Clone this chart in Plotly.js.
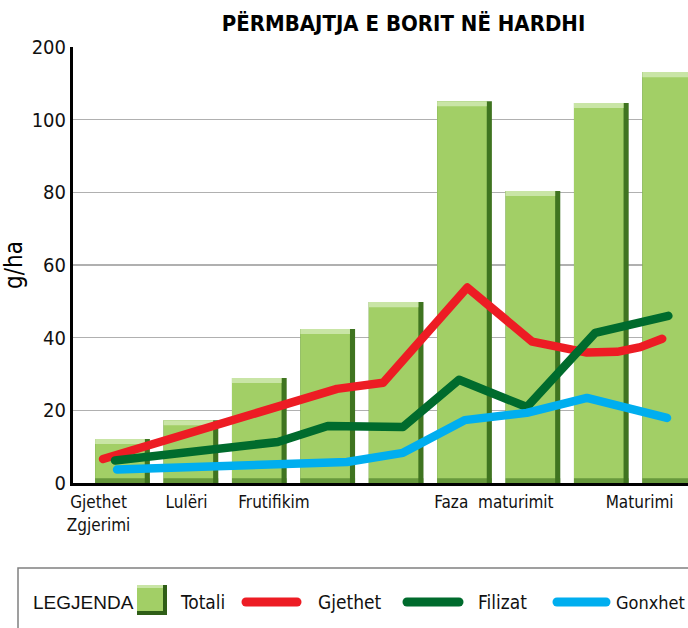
<!DOCTYPE html>
<html><head><meta charset="utf-8">
<script src="https://cdn.plot.ly/plotly-3.0.1.min.js"></script>
<style>
html,body{margin:0;padding:0;overflow:hidden;background:#fff;}
#wrap{width:688px;height:628px;overflow:hidden;position:relative;}
#chart{width:720px;height:628px;}
.scatterlayer path.js-line{stroke-linecap:round;stroke-linejoin:round;}
.shapelayer path{stroke-linecap:round;}
</style></head>
<body><div id="wrap"><div id="chart"></div></div>
<script>
// ---- data ----
const chartTitle = 'PËRMBAJTJA E BORIT NË HARDHI';
const yTitle = 'g/ha';
const stageTickPos = [-0.35, 0.936, 2.215, 5.43, 7.56];
const stageLabels = ['Gjethet<br>Zgjerimi', 'Lulëri', 'Frutifikim', 'Faza  maturimit', 'Maturimi'];
const barPos = [0, 1, 2, 3, 4, 5, 6, 7, 8];
const totali = [12.1, 17.3, 28.9, 42.4, 49.8, 105.1, 80.4, 104.6, 113.1];
const gjethetX = [-0.285, 2.49, 3.136, 3.81, 5.04, 5.99, 6.79, 7.23, 7.57, 7.89];
const gjethetY = [6.6, 22.0, 25.9, 27.6, 53.8, 38.9, 35.9, 36.1, 37.4, 39.7];
const filizatX = [-0.11, 2.27, 3.0, 4.1, 4.92, 5.91, 6.91, 7.98];
const filizatY = [6.2, 11.3, 15.7, 15.4, 28.4, 20.9, 41.3, 46.0];
const gonxhetX = [-0.08, 3.28, 4.1, 5.0, 5.91, 6.79, 7.96];
const gonxhetY = [3.7, 5.8, 8.3, 17.3, 19.3, 23.4, 17.9];
const yTickVals = [0, 20, 40, 60, 80, 100, 120];
const yTickText = ['0', '20', '40', '60', '80', '100', '200'];
const legendTitle = 'LEGJENDA';
const seriesNames = ['Totali', 'Gjethet', 'Filizat', 'Gonxhet'];
const seriesColors = ['#a2cf66', '#ed1c24', '#006b2d', '#00aeef'];

// ---- layout helpers ----
const W = 720, H = 628, ML = 73, MR = 10, MT = 47, MB = 145;
const PW = W - ML - MR, PH = H - MT - MB;
const px = v => (v - ML) / PW;
const py = v => (H - MB - v) / PH;
const condensed = '"DejaVu Sans Condensed", "Liberation Sans Narrow", "Arial Narrow", sans-serif';

const highlightBase = totali.map(v => v - 1.4);
const highlightH = totali.map(() => 1.4);
const bottomH = totali.map(() => 1.3);

const traces = [
  {type: 'bar', x: barPos, y: totali, width: 0.80, offset: -0.40, marker: {color: '#3f7420', line: {width: 0}}, hoverinfo: 'skip', showlegend: false},
  {type: 'bar', x: barPos, y: totali, width: 0.725, offset: -0.40, marker: {color: seriesColors[0], line: {width: 0}}, name: seriesNames[0], showlegend: false},
  {type: 'bar', x: barPos, y: highlightH, base: highlightBase, width: 0.725, offset: -0.40, marker: {color: '#c9e5a6', line: {width: 0}}, hoverinfo: 'skip', showlegend: false},
  {type: 'bar', x: barPos, y: bottomH, width: 0.80, offset: -0.40, marker: {color: '#3f7420', opacity: 0.6, line: {width: 0}}, hoverinfo: 'skip', showlegend: false},
  {type: 'scatter', mode: 'lines', x: gjethetX, y: gjethetY, name: seriesNames[1], line: {color: seriesColors[1], width: 8.5}, showlegend: false},
  {type: 'scatter', mode: 'lines', x: filizatX, y: filizatY, name: seriesNames[2], line: {color: seriesColors[2], width: 8.5}, showlegend: false},
  {type: 'scatter', mode: 'lines', x: gonxhetX, y: gonxhetY, name: seriesNames[3], line: {color: seriesColors[3], width: 8.5}, showlegend: false}
];

// custom legend
const legY = 602;
const shapes = [
  {type: 'rect', xref: 'paper', yref: 'paper', x0: px(18), x1: px(780), y0: py(568), y1: py(680), line: {color: '#808080', width: 1.5}, fillcolor: 'rgba(0,0,0,0)'},
  {type: 'rect', xref: 'paper', yref: 'paper', x0: px(137), x1: px(167), y0: py(585), y1: py(615), line: {width: 0}, fillcolor: '#2f5e17'},
  {type: 'rect', xref: 'paper', yref: 'paper', x0: px(137), x1: px(163), y0: py(585), y1: py(611), line: {width: 0}, fillcolor: seriesColors[0]},
  {type: 'rect', xref: 'paper', yref: 'paper', x0: px(137), x1: px(163), y0: py(585), y1: py(588), line: {width: 0}, fillcolor: '#c9e5a6'},
  {type: 'line', xref: 'paper', yref: 'paper', x0: px(246), x1: px(297), y0: py(legY), y1: py(legY), line: {color: seriesColors[1], width: 9}},
  {type: 'line', xref: 'paper', yref: 'paper', x0: px(407), x1: px(459), y0: py(legY), y1: py(legY), line: {color: seriesColors[2], width: 9}},
  {type: 'line', xref: 'paper', yref: 'paper', x0: px(557), x1: px(606), y0: py(legY), y1: py(legY), line: {color: seriesColors[3], width: 9}}
];
const legTextX = [178, 316, 476, 614];
const legTextSize = [19, 19, 19, 18];
const annotations = [
  {xref: 'paper', yref: 'paper', x: px(31), y: py(legY), xanchor: 'left', yanchor: 'middle', showarrow: false, text: legendTitle, font: {family: '"Liberation Sans", Arial, sans-serif', size: 19, color: '#111'}}
].concat(seriesNames.map((n, i) => ({
  xref: 'paper', yref: 'paper', x: px(legTextX[i]), y: py(legY), xanchor: 'left', yanchor: 'middle', showarrow: false,
  text: n, font: {family: condensed, size: legTextSize[i], color: '#111'}
})));

const layout = {
  width: W, height: H,
  margin: {l: ML, r: MR, t: MT, b: MB, pad: 0},
  paper_bgcolor: '#fff', plot_bgcolor: '#fff',
  barmode: 'overlay',
  showlegend: false,
  title: {text: '<b>' + chartTitle + '</b>', x: px(403.5), xref: 'paper', xanchor: 'center', y: 1 - 23 / H, yref: 'container', yanchor: 'middle',
          font: {family: condensed, size: 22, color: '#000'}},
  xaxis: {type: 'linear', range: [-0.724, -0.724 + PW / 68.4], tickmode: 'array', tickvals: stageTickPos, ticktext: stageLabels,
          showgrid: false, zeroline: false, showline: true, linecolor: '#000', linewidth: 3, ticks: 'outside', ticklen: 2, tickcolor: 'rgba(0,0,0,0)',
          tickfont: {family: condensed, size: 17, color: '#111'}, fixedrange: true},
  yaxis: {range: [0, 120], tickmode: 'array', tickvals: yTickVals, ticktext: yTickText,
          showgrid: true, gridcolor: '#b0b0b0', gridwidth: 1.2, zeroline: false, showline: true, linecolor: '#000', linewidth: 3,
          ticks: '', tickfont: {family: condensed, size: 20, color: '#111'},
          title: {text: yTitle, standoff: 3, font: {family: condensed, size: 24, color: '#000'}}, fixedrange: true},
  shapes: shapes,
  annotations: annotations
};

Plotly.newPlot('chart', traces, layout, {staticPlot: true, displayModeBar: false});
</script>
</body></html>
